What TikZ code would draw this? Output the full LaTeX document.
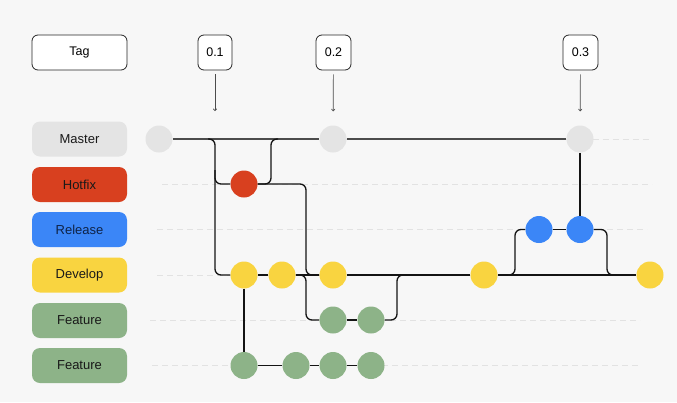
\documentclass[tikz,border=0pt]{standalone}
\usepackage{fontspec}
\setmainfont{Liberation Sans}
\usetikzlibrary{arrows.meta}
\definecolor{bgc}{HTML}{F7F7F7}
\definecolor{mastc}{HTML}{E4E4E4}
\definecolor{hotc}{HTML}{D8401F}
\definecolor{relc}{HTML}{3B86F7}
\definecolor{devc}{HTML}{F9D440}
\definecolor{featc}{HTML}{8DB388}
\definecolor{guidec}{HTML}{E2E2E2}
\definecolor{reltext}{HTML}{0F2347}
\pgfdeclarelayer{bg}
\pgfdeclarelayer{lines}
\pgfsetlayers{bg,lines,main}
\tikzset{
  lbl/.style={rounded corners=8pt, minimum width=95pt, minimum height=35pt, inner sep=0pt,
    font=\fontsize{13}{15}\selectfont, text=black!90},
  tagbox/.style={draw=black!85, line width=0.8pt, fill=white, rounded corners=6pt,
    minimum height=35pt, inner sep=0pt, font=\fontsize{12.5}{15}\selectfont},
  commit/.style={circle, minimum size=27pt, inner sep=0pt},
  guide/.style={guidec, line width=0.8pt, dash pattern=on 6pt off 4pt},
  mline/.style={black!70, line width=1.8pt},
  br/.style={black!92, line width=1.3pt, rounded corners=6pt},
  tagarrow/.style={black!70, line width=0.7pt, -{To[length=2.5pt,width=4pt]}, shorten <=4pt}
}
\begin{document}
\begin{tikzpicture}[x=1pt,y=-1pt]
\begin{pgfonlayer}{bg}
\fill[bgc] (0,0) rectangle (677,402);
\end{pgfonlayer}
\useasboundingbox (0,0) rectangle (677,402);

% labels
\node[tagbox, minimum width=95pt] (tag) at (79.5,52.5) {Tag};
\node[lbl, fill=mastc] (lm) at (79.5,139) {Master};
\node[lbl, fill=hotc] (lh) at (79.5,184.5) {Hotfix};
\node[lbl, fill=relc, text=reltext] (lr) at (79.5,229.5) {Release};
\node[lbl, fill=devc] (ld) at (79.5,275) {Develop};
\node[lbl, fill=featc] (lf1) at (79.5,320.5) {Feature};
\node[lbl, fill=featc] (lf2) at (79.5,365.5) {Feature};

% tags
\node[tagbox, minimum width=34pt] (t1) at (215,52.5) {0.1};
\node[tagbox, minimum width=35pt] (t2) at (333.5,52.5) {0.2};
\node[tagbox, minimum width=35pt] (t3) at (580.5,52.5) {0.3};

% commits
\node[commit, fill=mastc] (m0) at (159,139) {};
\node[commit, fill=mastc] (m1) at (333,139) {};
\node[commit, fill=mastc] (m2) at (580,139) {};
\node[commit, fill=hotc] (h1) at (244,184) {};
\node[commit, fill=relc] (r1) at (539,229.5) {};
\node[commit, fill=relc] (r2) at (580,229.5) {};
\node[commit, fill=devc] (d1) at (244,275) {};
\node[commit, fill=devc] (d2) at (282,275) {};
\node[commit, fill=devc] (d3) at (333,275) {};
\node[commit, fill=devc] (d4) at (484,275) {};
\node[commit, fill=devc] (d5) at (650,275) {};
\node[commit, fill=featc] (f1) at (333,320) {};
\node[commit, fill=featc] (f2) at (371,320) {};
\node[commit, fill=featc] (g1) at (244,365.5) {};
\node[commit, fill=featc] (g2) at (296,365.5) {};
\node[commit, fill=featc] (g3) at (333,365.5) {};
\node[commit, fill=featc] (g4) at (371,365.5) {};

% helper coordinates
\coordinate (p1) at (215,111);
\coordinate (a0) at (208,139);
\coordinate (a1) at (215,139);
\coordinate (b0) at (215,170);
\coordinate (c1) at (271,139);
\coordinate (c2) at (278,139);
\coordinate (e1) at (306,275);
\coordinate (e2) at (306,320);
\coordinate (e3) at (397,275);
\coordinate (e4) at (404,275);
\coordinate (k0) at (508,275);
\coordinate (k1) at (515,275);
\coordinate (k2) at (607,275);
\coordinate (k3) at (614,275);

\begin{pgfonlayer}{bg}
% guides
\draw[guide] (m0) -- (650,139);
\draw[guide] (162,184) -- (652,184);
\draw[guide] (157,229.5) -- (647,229.5);
\draw[guide] (157,275) -- (640,275);
\draw[guide] (150,320.5) -- (640,320.5);
\draw[guide] (152,365.5) -- (640,365.5);
\end{pgfonlayer}

\begin{pgfonlayer}{lines}
% master
\draw[mline] (m0) -- (m1) -- (m2);
% branch master -> develop
\draw[br] (a0) -- (a1) |- (d1);
% branch to hotfix
\draw[br] (b0) |- (h1);
% hotfix -> master
\draw[br] (h1) -| (c1) -- (c2);
% hotfix -> develop
\draw[br] (h1) -| (e1) -- (d3);
% develop line
\draw[br] (d1) -- (d2) -- (d3) -- (d4) -- (d5);
% develop -> feature 1
\draw[br] (d2) -| (e2) -- (f1);
\draw[br] (f1) -- (f2);
\draw[br] (f2) -| (e3) -- (e4);
% develop -> feature 2
\draw[br] (d1) -- (g1);
\draw[br] (g1) -- (g2) -- (g3) -- (g4);
% release
\draw[br] (k0) -- (k1) |- (r1);
\draw[br] (r1) -- (r2);
\draw[br] (r2) -| (k2) -- (k3);
\draw[br] (m2) -- (r2);
% tag arrows
\draw[tagarrow] (t1) -- (p1);
\draw[tagarrow, shorten >=14pt] (t2) -- (m1);
\draw[tagarrow, shorten >=14pt] (t3) -- (m2);
\end{pgfonlayer}
\end{tikzpicture}
\end{document}
